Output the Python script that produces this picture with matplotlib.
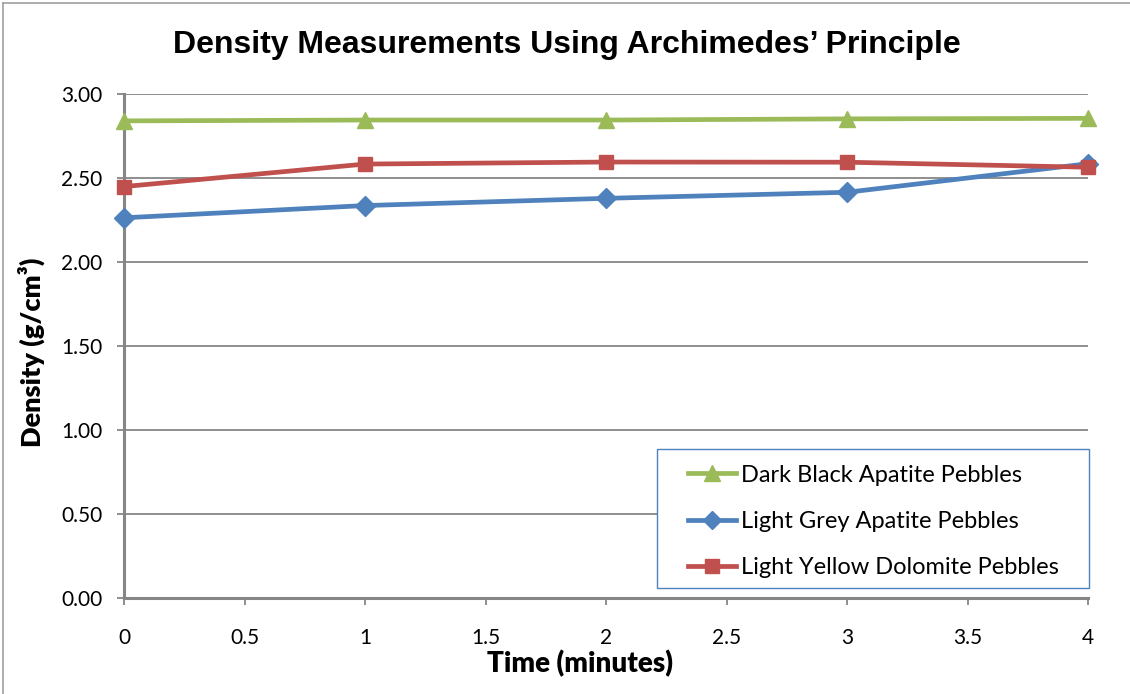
import matplotlib
matplotlib.use("Agg")
import matplotlib.pyplot as plt
from matplotlib.lines import Line2D
from matplotlib.patches import Rectangle

# Measurement times and densities (g/cm³)
time_min = [0, 1, 2, 3, 4]
dark_black_apatite = [2.84, 2.845, 2.845, 2.852, 2.855]
light_grey_apatite = [2.263, 2.336, 2.379, 2.415, 2.585]
light_yellow_dolomite = [2.449, 2.583, 2.595, 2.594, 2.564]

series_labels = ["Dark Black Apatite Pebbles",
                 "Light Grey Apatite Pebbles",
                 "Light Yellow Dolomite Pebbles"]
y_ticks = [0.0, 0.5, 1.0, 1.5, 2.0, 2.5, 3.0]
x_ticks = [0, 0.5, 1, 1.5, 2, 2.5, 3, 3.5, 4]

GREEN = "#9BBB59"
BLUE = "#4F81BD"
RED = "#C0504D"
GRID = "#868686"

W, H = 1130, 694
fig = plt.figure(figsize=(W / 100, H / 100), dpi=100)
ax = fig.add_axes([124 / W, 1 - 598 / H, (1088 - 124) / W, (598 - 94) / H])

lw = 3.4
ax.plot(time_min, light_grey_apatite, color=BLUE, lw=lw, marker="D",
        markersize=10, zorder=3, clip_on=False)
ax.plot(time_min, light_yellow_dolomite, color=RED, lw=lw, marker="s",
        markersize=10.5, zorder=4, clip_on=False)
ax.plot(time_min, dark_black_apatite, color=GREEN, lw=lw, marker="^",
        markersize=12, zorder=5, clip_on=False)

ax.set_xlim(0, 4)
ax.set_ylim(0, 3)
ax.set_yticks(y_ticks)
ax.set_yticklabels([f"{v:.2f}" for v in y_ticks])
ax.set_xticks(x_ticks)
ax.set_xticklabels([f"{v:g}" for v in x_ticks])

for lab in ax.get_xticklabels() + ax.get_yticklabels():
    lab.set_fontfamily("Lato")
    lab.set_fontsize(15)

ax.grid(axis="y", color=GRID, lw=1.3, zorder=1)
ax.set_axisbelow(True)
for side in ("top", "right"):
    ax.spines[side].set_visible(False)
for side in ("left", "bottom"):
    ax.spines[side].set_color(GRID)
    ax.spines[side].set_linewidth(2.2)
ax.tick_params(axis="y", direction="out", length=5, width=1.3, color=GRID, pad=10.5)
ax.tick_params(axis="x", direction="out", length=5, width=1.3, color=GRID, pad=16.5)

ax.set_xlabel("Time (minutes)", fontfamily="Lato", fontweight="heavy",
              fontsize=20, va="center")
ax.xaxis.set_label_coords((580 - 124) / 964, (598 - 664) / 504)
ax.set_ylabel("Density (g/cm³)", fontfamily="Lato", fontweight="heavy",
              fontsize=19.5, va="center")
ax.yaxis.set_label_coords((31 - 124) / 964, (598 - 352) / 504)

fig.text(567 / W, 1 - 45 / H, "Density Measurements Using Archimedes’ Principle",
         ha="center", va="center", fontfamily="Liberation Sans",
         fontweight="bold", fontsize=23)

# Legend frame drawn as its own box, entries centred inside it
bx0, by0, bx1, by1 = 657, 449, 1089, 588
fig.add_artist(Rectangle((bx0 / W, 1 - by1 / H), (bx1 - bx0) / W, (by1 - by0) / H,
                         transform=fig.transFigure, facecolor="white",
                         edgecolor=BLUE, lw=1.0, zorder=6))
handles = [
    Line2D([], [], color=GREEN, lw=lw, marker="^", markersize=11),
    Line2D([], [], color=BLUE, lw=lw, marker="D", markersize=9),
    Line2D([], [], color=RED, lw=lw, marker="s", markersize=10),
]
leg = fig.legend(handles, series_labels, loc="center",
                 bbox_to_anchor=((bx0 + bx1) / 2 / W, 1 - (by0 + by1 + 6) / 2 / H),
                 frameon=False, prop=dict(family="Lato", size=17),
                 handlelength=2.05, handletextpad=0.2, labelspacing=1.08,
                 borderpad=0.4)
leg.set_zorder(7)

# Chart-area border along the top and left edges
fig.add_artist(Line2D([3 / W, 3 / W], [0, 1 - 3 / H], color="#A0A0A0", lw=1.2,
                      transform=fig.transFigure))
fig.add_artist(Line2D([3 / W, 1], [1 - 3 / H, 1 - 3 / H], color="#A0A0A0", lw=1.2,
                      transform=fig.transFigure))

fig.savefig("out.png", dpi=100)
